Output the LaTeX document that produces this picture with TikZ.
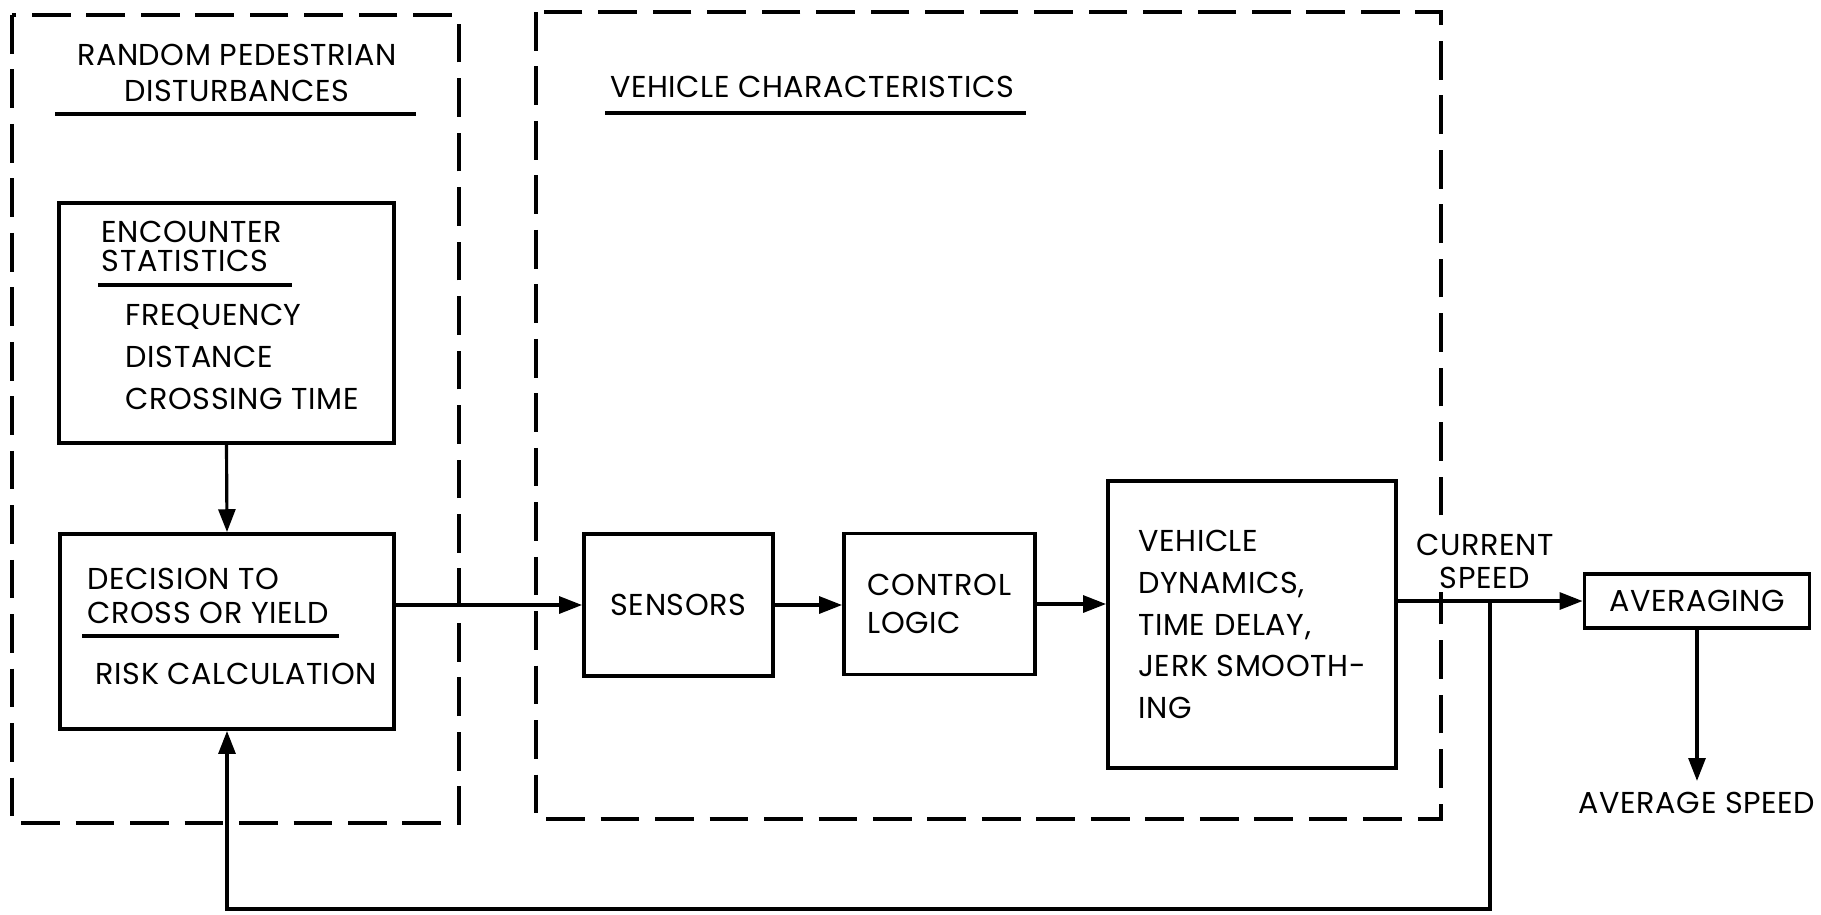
\documentclass[tikz,border=0pt]{standalone}
\usepackage{fontspec}
\setmainfont{Poppins}[LetterSpace=2]
\usetikzlibrary{arrows.meta,positioning,calc}

\begin{document}
\begin{tikzpicture}[
  >={Triangle[length=6.5pt,width=4.8pt]},
  block/.style={draw, line width=1.1pt, inner sep=0pt},
  region/.style={draw, line width=0.9pt, dash pattern=on 11pt off 4.5pt},
  flow/.style={->, line width=0.9pt},
  uline/.style={line width=1.1pt},
  lbl/.style={inner sep=0pt, font=\fontsize{8.6}{10}\selectfont}
]

\useasboundingbox (0,0) rectangle (18.21,-9.14);

% ================= DASHED REGIONS =================
\draw[region] (0.12,-0.15) rectangle (4.59,-8.23);
\draw[region] (5.36,-0.12) rectangle (14.41,-8.19);

\node[lbl, anchor=north, align=center, font=\fontsize{8.6}{10.5}\selectfont]
  (pedtitle) at (2.37,-0.43) {RANDOM PEDESTRIAN\\DISTURBANCES};
\draw[uline] (0.55,-1.14) -- (4.16,-1.14);

\node[lbl, anchor=base] (vehtitle) at (8.12,-0.97) {VEHICLE CHARACTERISTICS};
\draw[uline] (6.05,-1.13) -- (10.26,-1.13);

% ================= PEDESTRIAN BLOCKS =================
\node[block, minimum width=3.35cm, minimum height=2.40cm] (enc) at (2.265,-3.23) {};
\node[lbl, anchor=north west, align=left, font=\fontsize{8.6}{8.5}\selectfont]
  (enchead) at (1.01,-2.20) {ENCOUNTER\\STATISTICS};
\draw[uline] (0.98,-2.85) -- (2.92,-2.85);
\node[lbl, anchor=north west, align=left, font=\fontsize{8.6}{12}\selectfont]
  (encitems) at (1.25,-3.03) {FREQUENCY\\DISTANCE\\CROSSING TIME};

\node[block, minimum width=3.34cm, minimum height=1.95cm] (dec) at (2.27,-6.315) {};
\node[lbl, anchor=north west, align=left, font=\fontsize{8.6}{9.9}\selectfont]
  (dechead) at (0.87,-5.67) {DECISION TO\\CROSS OR YIELD};
\draw[uline] (0.82,-6.36) -- (3.39,-6.36);
\node[lbl, anchor=base west] (risk) at (0.95,-6.84) {RISK CALCULATION};

% ================= VEHICLE BLOCKS =================
\node[block, lbl, minimum width=1.89cm, minimum height=1.42cm] (sens) at (6.785,-6.05) {SENSORS};
\node[block, lbl, align=left, minimum width=1.91cm, minimum height=1.41cm,
  font=\fontsize{8.6}{11}\selectfont] (ctrl) at (9.395,-6.04) {CONTROL\\LOGIC};
\node[block, lbl, align=left, minimum width=2.88cm, minimum height=2.87cm,
  font=\fontsize{8.6}{11.9}\selectfont] (veh) at (12.52,-6.245)
  {VEHICLE\\DYNAMICS,\\TIME DELAY,\\JERK SMOOTH-\\ING};

% ================= OUTPUT =================
\node[block, lbl, minimum width=2.25cm, minimum height=0.54cm] (avg) at (16.97,-6.01) {AVERAGING};
\node[lbl, anchor=north, align=center, fill=white, inner ysep=1pt,
  font=\fontsize{8.6}{9.4}\selectfont]
  (curspeed) at (14.85,-5.30) {CURRENT\\SPEED};
\node[lbl, anchor=base] (avgout) at (16.97,-8.13) {AVERAGE SPEED};

\coordinate (tap) at (14.90,-6.01);
\coordinate (low) at (14.90,-9.09);

% Connectors
\draw[flow] (enc.south) -- (dec.north);
\draw[flow] (dec.east |- sens.west) -- (sens.west);
\draw[flow] (sens.east) -- (sens.east -| ctrl.west);
\draw[flow] (ctrl.east) -- (ctrl.east -| veh.west);
\draw[flow] (veh.east |- avg.west) -- (avg.west);
\draw[flow] (tap) -- (low) -| (dec.south);
\draw[flow] (avg.south) -- ++(0,-1.51);

\end{tikzpicture}
\end{document}
